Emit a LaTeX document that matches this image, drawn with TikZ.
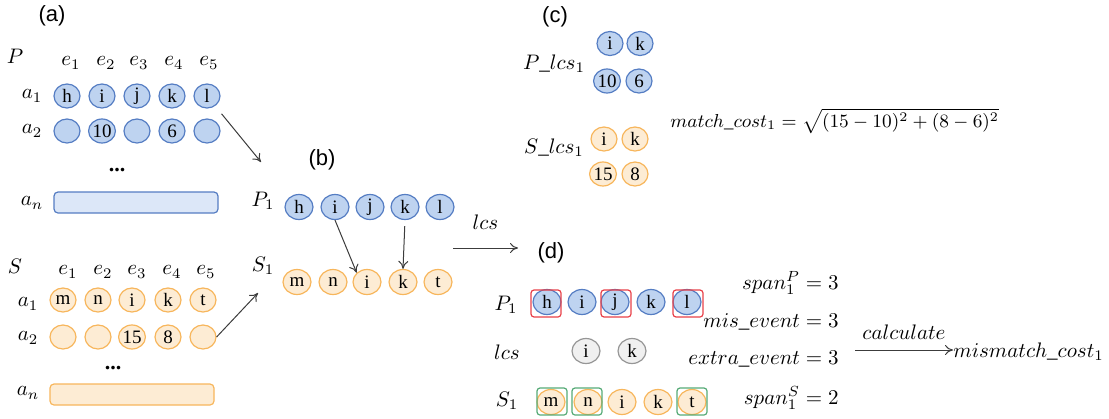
\RequirePackage{fix-cm}
\documentclass[tikz,border=0pt]{standalone}
\usepackage{fontspec}
\setmainfont{Liberation Serif}
\newfontfamily\labfont{Liberation Sans}
\usetikzlibrary{shapes.geometric,arrows.meta}
\definecolor{pfill}{RGB}{190,211,240}
\definecolor{pdraw}{RGB}{85,125,195}
\definecolor{pbox}{RGB}{220,231,248}
\definecolor{sfill}{RGB}{253,236,212}
\definecolor{sdraw}{RGB}{247,182,92}
\definecolor{gfill}{RGB}{240,240,240}
\definecolor{gdraw}{RGB}{150,150,150}
\definecolor{redbox}{RGB}{232,64,72}
\definecolor{greenbox}{RGB}{86,170,118}
\definecolor{arr}{RGB}{60,60,60}
\begin{document}
\begin{tikzpicture}[x=0.5pt,y=-0.5pt,
  circ/.style={ellipse, minimum width=13pt, minimum height=12pt, inner sep=0pt, line width=0.6pt, font=\fontsize{9.5}{9.5}\selectfont},
  big/.style={minimum width=14pt, minimum height=12.5pt},
  pc/.style={circ, draw=pdraw, fill=pfill},
  sc/.style={circ, draw=sdraw, fill=sfill},
  gc/.style={circ, draw=gdraw, fill=gfill},
  ml/.style={font=\fontsize{10.5}{12}\selectfont, inner sep=0pt},
  lab/.style={font=\labfont\fontsize{11}{13}\selectfont, inner sep=0pt},
  dots/.style={font=\fontsize{11}{13}\selectfont\bfseries, inner sep=0pt},
  rowbox/.style={rectangle, rounded corners=2pt, line width=0.6pt, minimum width=82pt, minimum height=10.5pt, inner sep=0pt},
  markbox/.style={rectangle, rounded corners=1.5pt, line width=0.6pt, minimum width=15pt, minimum height=13.5pt, inner sep=0pt},
  con/.style={draw=arr, line width=0.5pt, -{To[length=4pt,width=5pt]}}
]
\useasboundingbox (0,0) rectangle (1109,418);

% ---------- (a) ----------
\node[lab] (la) at (52,16) {(a)};
\node[ml] (P) at (15,56) {$P$};
\foreach \i/\x in {1/71,2/106,3/139,4/174,5/209}
  \node[ml] (Pe\i) at (\x,63) {$e_\i$};
\node[ml] (Pa1) at (32,96) {$a_1$};
\node[ml] (Pa2) at (32,131) {$a_2$};
\node[ml] (Pan) at (32,203) {$a_n$};
\foreach \n/\t/\x in {1/h/67,2/i/102,3/j/137,4/k/172,5/l/207}
  \node[pc] (PA\n) at (\x,96) {\t};
\foreach \n/\t/\x in {1//67,2/10/102,3//137,4/6/172,5//207}
  \node[pc] (PB\n) at (\x,131) {\t};
\node[dots] (Pdots) at (117,170) {...};
\node[rowbox, draw=pdraw, fill=pbox] (Prow) at (136,202.5) {};

\node[ml] (S) at (15,266) {$S$};
\foreach \i/\x in {1/68,2/103,3/137,4/172,5/206}
  \node[ml] (Se\i) at (\x,272) {$e_\i$};
\node[ml] (Sa1) at (28,304) {$a_1$};
\node[ml] (Sa2) at (28,338) {$a_2$};
\node[ml] (San) at (28,393) {$a_n$};
\foreach \n/\t/\x in {1/m/63,2/n/98,3/i/132,4/k/168,5/t/203}
  \node[sc] (SA\n) at (\x,300) {\t};
\foreach \n/\t/\x in {1//63,2//98,3/15/132,4/8/168,5//203}
  \node[sc] (SB\n) at (\x,337) {\t};
\node[dots] (Sdots) at (113,368) {...};
\node[rowbox, draw=sdraw, fill=sfill] (Srow) at (132,394.5) {};

% ---------- (b) ----------
\node[lab] (lb) at (322,160) {(b)};
\node[ml] (bP1) at (263,201) {$P_1$};
\node[ml] (bS1) at (263,266) {$S_1$};
\foreach \n/\t/\x in {1/h/299,2/i/335,3/j/370,4/k/405,5/l/440}
  \node[pc,big] (bP\n) at (\x,207) {\t};
\foreach \n/\t/\x in {1/m/297,2/n/333,3/i/367,4/k/403,5/t/438}
  \node[sc,big] (bS\n) at (\x,282) {\t};
\coordinate (pa) at (261,162);
\coordinate (sa) at (258,293);
\draw[con, shorten <=5pt] (PA5) -- (pa);
\draw[con] (SB5.east) -- (sa);
\draw[con] (bP2.south) -- (bS3.north west);
\draw[con, shorten <=3pt] (bP4.south) -- (bS4.north);

\coordinate (lcsA) at (453,248);
\coordinate (lcsB) at (518,248);
\draw[con] (lcsA) -- node[ml, above=9pt] (lcsl) {$lcs$} (lcsB);

% ---------- (c) ----------
\node[lab] (lc) at (555,17) {(c)};
\node[ml] (cP) at (554,64) {$P\_lcs_1$};
\node[ml] (cS) at (554,148) {$S\_lcs_1$};
\node[pc] (cPi) at (610,43.5) {i};
\node[pc] (cPk) at (640,43.5) {k};
\node[pc] (cP10) at (607,81) {10};
\node[pc] (cP6) at (639,81) {6};
\node[sc] (cSi) at (604,139) {i};
\node[sc] (cSk) at (635,139) {k};
\node[sc] (cS15) at (603,174) {15};
\node[sc] (cS8) at (635,174) {8};
\node[inner sep=0pt, anchor=west, font=\fontsize{9.4}{11}\selectfont] (mc) at (670,121) {$match\_cost_1=\sqrt{(15-10)^2+(8-6)^2}$};

% ---------- (d) ----------
\node[lab] (ld) at (551,253) {(d)};
\node[ml] (dP1) at (506,305) {$P_1$};
\node[ml] (dl) at (507,352) {$lcs$};
\node[ml] (dS1) at (507,401) {$S_1$};
\foreach \n/\t/\x in {1/h/547,2/i/582,3/j/615,4/k/651,5/l/687}
  \node[pc,big] (dP\n) at (\x,302) {\t};
\node[gc,big] (dLi) at (586,351) {i};
\node[gc,big] (dLk) at (632,351) {k};
\foreach \n/\t/\x in {1/m/551,2/n/588,3/i/622,4/k/658,5/t/692}
  \node[sc,big] (dS\n) at (\x,402) {\t};
\node[markbox, draw=redbox] (r1) at (546,303.5) {};
\node[markbox, draw=redbox] (r3) at (616,303.5) {};
\node[markbox, draw=redbox] (r5) at (688,303.5) {};
\node[markbox, draw=greenbox] (g1) at (552,401.5) {};
\node[markbox, draw=greenbox] (g2) at (587,401.5) {};
\node[markbox, draw=greenbox] (g5) at (692,401.5) {};

\node[ml, anchor=east] (spP) at (839,283) {$span_1^P=3$};
\node[ml, anchor=east] (mis) at (839,322) {$mis\_event=3$};
\node[ml, anchor=east] (ext) at (839,359) {$extra\_event=3$};
\node[ml, anchor=east] (spS) at (839,398) {$span_1^S=2$};

\node[ml, anchor=west] (mm) at (953,352) {$mismatch\_cost_1$};
\coordinate (calA) at (855,350);
\draw[con] (calA) -- node[ml, above=5pt] (cal) {$calculate$} (mm.west |- calA);
\end{tikzpicture}
\end{document}
